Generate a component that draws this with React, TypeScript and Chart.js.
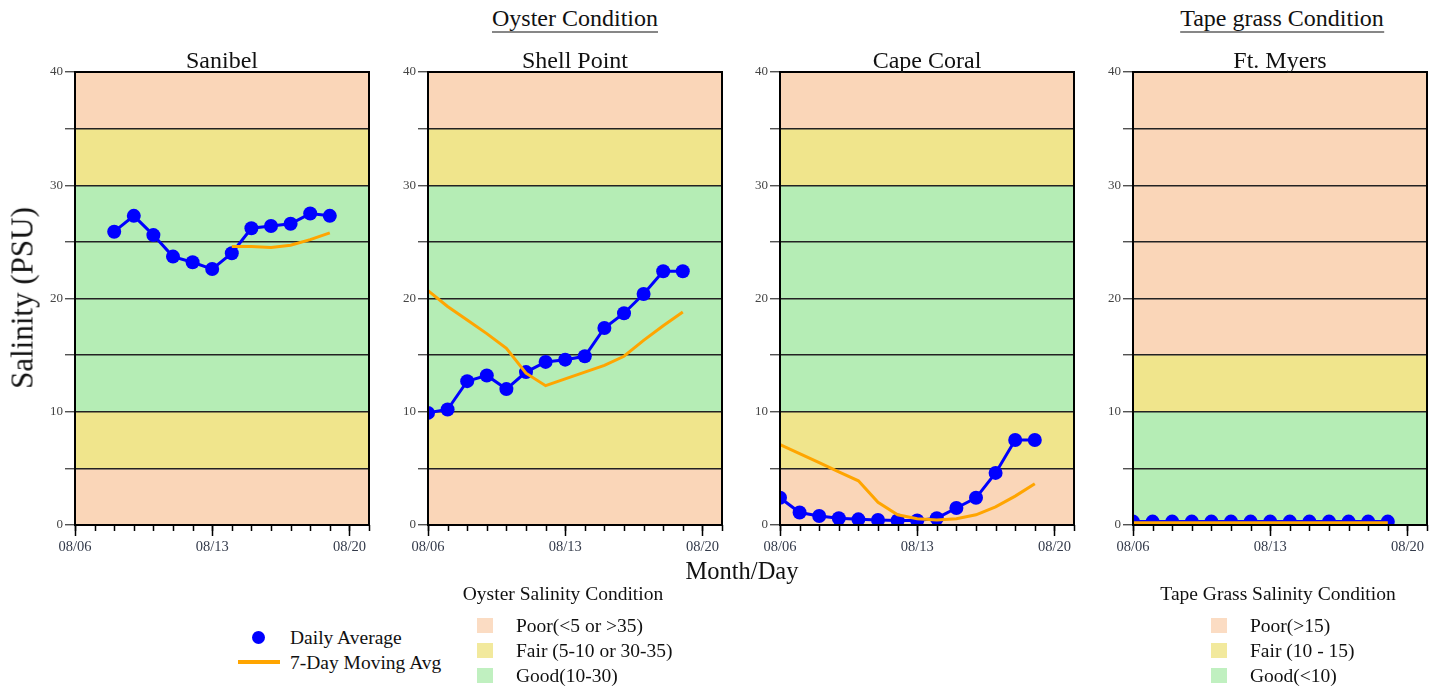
import React, { useEffect, useRef } from 'react';
import { Chart, registerables } from 'chart.js';
Chart.register(...registerables);

// ---------- data ----------
const dates = ['08/06', '08/07', '08/08', '08/09', '08/10', '08/11', '08/12', '08/13', '08/14', '08/15', '08/16', '08/17', '08/18', '08/19'];
const xTickValues = [0, 7, 14];
const xTickLabels = ['08/06', '08/13', '08/20'];
const xMaxDays = 15;
const yTickValues = [0, 5, 10, 15, 20, 25, 30, 35, 40];

const sanibelDaily = [null, null, 25.9, 27.3, 25.6, 23.7, 23.2, 22.6, 24.0, 26.2, 26.4, 26.6, 27.5, 27.3];
const sanibelMA = [null, null, null, null, null, null, null, null, 24.6, 24.6, 24.5, 24.7, 25.2, 25.8];

const shellDaily = [9.9, 10.2, 12.7, 13.2, 12.0, 13.5, 14.4, 14.6, 14.9, 17.4, 18.7, 20.4, 22.4, 22.4];
const shellMA = [20.7, 19.3, 18.1, 16.9, 15.6, 13.4, 12.3, 12.9, 13.5, 14.1, 14.9, 16.3, 17.6, 18.8];

const capeDaily = [2.4, 1.1, 0.8, 0.6, 0.5, 0.45, 0.4, 0.4, 0.6, 1.5, 2.4, 4.6, 7.5, 7.5];
const capeMA = [7.1, 6.3, 5.5, 4.7, 3.9, 2.0, 0.9, 0.55, 0.45, 0.55, 0.9, 1.6, 2.55, 3.65];

const ftMyersDaily = [0.3, 0.3, 0.3, 0.3, 0.3, 0.3, 0.3, 0.3, 0.3, 0.3, 0.3, 0.3, 0.3, 0.3];
const ftMyersMA = [0.2, 0.2, 0.2, 0.2, 0.2, 0.2, 0.2, 0.2, 0.2, 0.2, 0.2, 0.2, 0.2, 0.2];

const oysterBandEdges = [0, 5, 10, 30, 35, 40];
const oysterBandClasses = ['poor', 'fair', 'good', 'fair', 'poor'];
const tapeBandEdges = [0, 10, 15, 40];
const tapeBandClasses = ['good', 'fair', 'poor'];

const oysterLegendLabels = ['Poor(<5 or >35)', 'Fair (5-10 or 30-35)', 'Good(10-30)'];
const tapeLegendLabels = ['Poor(>15)', 'Fair (10 - 15)', 'Good(<10)'];
const legendClasses = ['poor', 'fair', 'good'];

// ---------- styles ----------
const bandColors: Record<string, string> = {
  poor: 'rgb(250, 214, 184)',
  fair: 'rgb(240, 229, 140)',
  good: 'rgb(181, 237, 181)',
};
const BLUE = '#0000FF';
const ORANGE = '#FFA500';
const FONT = '"Liberation Serif", "Times New Roman", serif';

const PLOT_TOP = 72;
const PLOT_H = 453;
const PLOT_W = 294;
const AX_W = 50;
const AX_H = 40;
const PAD_TOP = 12;
const PAD_RIGHT = 12;
const CANVAS_W = AX_W + PLOT_W + PAD_RIGHT;
const CANVAS_H = PAD_TOP + PLOT_H + AX_H;

type PanelProps = {
  left: number;
  daily: (number | null)[];
  ma: (number | null)[];
  edges: number[];
  classes: string[];
};

function Panel({ left, daily, ma, edges, classes }: PanelProps) {
  const ref = useRef<HTMLCanvasElement>(null);
  useEffect(() => {
    const bandPlugin = {
      id: 'bandsAndFrame',
      beforeDraw(chart: any) {
        const { ctx, chartArea, scales } = chart;
        const y = scales.y;
        ctx.save();
        for (let i = 0; i < classes.length; i++) {
          const top = y.getPixelForValue(edges[i + 1]);
          const bot = y.getPixelForValue(edges[i]);
          ctx.fillStyle = bandColors[classes[i]];
          ctx.fillRect(chartArea.left, top, chartArea.right - chartArea.left, bot - top);
        }
        ctx.restore();
      },
      afterDraw(chart: any) {
        const { ctx, chartArea, scales } = chart;
        const x = scales.x;
        ctx.save();
        ctx.strokeStyle = '#000';
        ctx.lineWidth = 1.5;
        ctx.beginPath();
        for (let d = 0; d <= xMaxDays; d++) {
          const px = Math.round(x.getPixelForValue(d)) + 0.5;
          ctx.moveTo(px, chartArea.bottom);
          ctx.lineTo(px, chartArea.bottom + 6);
        }
        ctx.stroke();
        ctx.lineWidth = 2;
        ctx.strokeRect(chartArea.left, chartArea.top, chartArea.right - chartArea.left, chartArea.bottom - chartArea.top);
        ctx.restore();
      },
    };

    const chart = new Chart(ref.current as HTMLCanvasElement, {
      type: 'line',
      data: {
        datasets: [
          {
            label: '7-Day Moving Avg',
            data: dates.map((_, i) => ({ x: i, y: ma[i] })) as any,
            borderColor: ORANGE,
            backgroundColor: ORANGE,
            borderWidth: 3,
            pointRadius: 0,
            tension: 0,
            clip: 0 as any,
            order: 0,
          },
          {
            label: 'Daily Average',
            data: dates.map((_, i) => ({ x: i, y: daily[i] })) as any,
            borderColor: BLUE,
            backgroundColor: BLUE,
            borderWidth: 3,
            pointRadius: 7,
            pointBorderWidth: 0,
            pointBackgroundColor: BLUE,
            tension: 0,
            clip: 0 as any,
            order: 1,
          },
        ],
      },
      options: {
        responsive: false,
        animation: false,
        layout: { padding: { top: PAD_TOP, right: PAD_RIGHT, left: 0, bottom: 0 } },
        plugins: { legend: { display: false }, tooltip: { enabled: false } },
        scales: {
          x: {
            type: 'linear',
            min: 0,
            max: xMaxDays,
            afterBuildTicks: (s: any) => {
              s.ticks = xTickValues.map((v) => ({ value: v }));
            },
            afterFit: (s: any) => {
              s.height = AX_H;
            },
            ticks: {
              autoSkip: false,
              maxRotation: 0,
              padding: 2,
              color: '#333a4a',
              font: { family: FONT, size: 14.5 },
              callback: (v: any) => {
                const i = xTickValues.indexOf(Number(v));
                return i >= 0 ? xTickLabels[i] : '';
              },
            },
            grid: { drawOnChartArea: false, drawTicks: true, tickLength: 11, tickColor: '#000', tickWidth: 1.5 },
            border: { display: true, color: '#000', width: 2 },
          },
          y: {
            min: 0,
            max: 40,
            afterBuildTicks: (s: any) => {
              s.ticks = yTickValues.map((v) => ({ value: v }));
            },
            afterFit: (s: any) => {
              s.width = AX_W;
            },
            ticks: {
              padding: 2,
              color: '#444',
              font: { family: FONT, size: 13 },
              callback: (v: any) => (Number(v) % 10 === 0 ? String(v) : ''),
            },
            grid: { color: '#222', lineWidth: 1.5, tickLength: 10, tickColor: '#333', tickWidth: 1.2 },
            border: { display: true, color: '#000', width: 2 },
          },
        },
      } as any,
      plugins: [bandPlugin],
    });
    return () => chart.destroy();
  }, []);
  return (
    <canvas
      ref={ref}
      width={CANVAS_W}
      height={CANVAS_H}
      style={{ position: 'absolute', left: left - AX_W, top: PLOT_TOP - PAD_TOP, width: CANVAS_W, height: CANVAS_H }}
    />
  );
}

const centered = (x: number, y: number, size: number, extra: React.CSSProperties = {}): React.CSSProperties => ({
  position: 'absolute',
  left: x,
  top: y,
  transform: 'translate(-50%, -50%)',
  fontSize: size,
  whiteSpace: 'nowrap',
  lineHeight: 1,
  color: '#111',
  ...extra,
});

const leftText = (x: number, y: number, size: number): React.CSSProperties => ({
  position: 'absolute',
  left: x,
  top: y,
  transform: 'translateY(-50%)',
  fontSize: size,
  whiteSpace: 'nowrap',
  lineHeight: 1,
  color: '#111',
});

const panelLefts = [75, 428, 780, 1133];
const panelNames = ['Sanibel', 'Shell Point', 'Cape Coral', 'Ft. Myers'];
const LEG = 19.5;

export default function App() {
  return (
    <div style={{ position: 'absolute', left: 0, top: 0, width: 1446, height: 690, background: '#fff', fontFamily: FONT, overflow: 'hidden' }}>
      <Panel left={panelLefts[0]} daily={sanibelDaily} ma={sanibelMA} edges={oysterBandEdges} classes={oysterBandClasses} />
      <Panel left={panelLefts[1]} daily={shellDaily} ma={shellMA} edges={oysterBandEdges} classes={oysterBandClasses} />
      <Panel left={panelLefts[2]} daily={capeDaily} ma={capeMA} edges={oysterBandEdges} classes={oysterBandClasses} />
      <Panel left={panelLefts[3]} daily={ftMyersDaily} ma={ftMyersMA} edges={tapeBandEdges} classes={tapeBandClasses} />

      {panelNames.map((n, i) => (
        <div key={n} style={centered(panelLefts[i] + PLOT_W / 2, 60, 24)}>{n}</div>
      ))}

      <div style={centered(575, 19, 24, { borderBottom: '1.5px solid #111', paddingBottom: 2 })}>Oyster Condition</div>
      <div style={centered(1282, 19, 24, { borderBottom: '1.5px solid #111', paddingBottom: 2 })}>Tape grass Condition</div>

      <div style={centered(22, 298, 31, { transform: 'translate(-50%, -50%) rotate(-90deg)' })}>Salinity (PSU)</div>
      <div style={centered(742, 571, 24.5)}>Month/Day</div>

      {/* series legend */}
      <div style={{ position: 'absolute', left: 252, top: 631, width: 13, height: 13, borderRadius: 7, background: BLUE }} />
      <div style={leftText(290, 638, LEG)}>Daily Average</div>
      <div style={{ position: 'absolute', left: 238, top: 660, width: 42, height: 4, background: ORANGE }} />
      <div style={leftText(290, 663, LEG)}>7-Day Moving Avg</div>

      {/* oyster condition legend */}
      <div style={centered(563, 594, LEG)}>Oyster Salinity Condition</div>
      {oysterLegendLabels.map((l, i) => (
        <React.Fragment key={l}>
          <div style={{ position: 'absolute', left: 477, top: 618 + i * 25, width: 16, height: 15, background: bandColors[legendClasses[i]], opacity: 0.85 }} />
          <div style={leftText(516, 626 + i * 25, LEG)}>{l}</div>
        </React.Fragment>
      ))}

      {/* tape grass legend */}
      <div style={centered(1278, 594, LEG)}>Tape Grass Salinity Condition</div>
      {tapeLegendLabels.map((l, i) => (
        <React.Fragment key={l}>
          <div style={{ position: 'absolute', left: 1211, top: 618 + i * 25, width: 16, height: 15, background: bandColors[legendClasses[i]], opacity: 0.85 }} />
          <div style={leftText(1250, 626 + i * 25, LEG)}>{l}</div>
        </React.Fragment>
      ))}
    </div>
  );
}
